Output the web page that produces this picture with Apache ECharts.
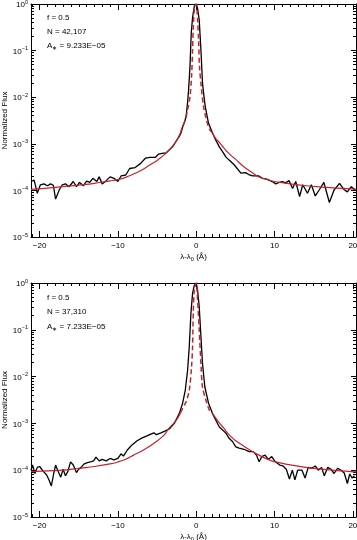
<!DOCTYPE html>
<html>
<head>
<meta charset="utf-8">
<script src="https://cdn.jsdelivr.net/npm/echarts@6.0.0/dist/echarts.min.js"></script>
<style>
  html, body { margin: 0; padding: 0; background: #fff; }
  #chart { width: 357px; height: 540px; }
</style>
</head>
<body>
<div id="chart"></div>
<script>
// ---------------- data ----------------
const X_MIN = -21.1, X_MAX = 20.4;
const X_MAJOR = [-20, -10, 0, 10, 20];
const X_MINOR = [-21,-19,-18,-17,-16,-15,-14,-13,-12,-11,-9,-8,-7,-6,-5,-4,-3,-2,-1,1,2,3,4,5,6,7,8,9,11,12,13,14,15,16,17,18,19];
const Y_DECADES = [-5, -4, -3, -2, -1, 0];
const Y_MINOR_MULT = [2, 3, 4, 5, 6, 7, 8, 9];

// panel annotations
const panelF = ['0.5', '0.5'];
const panelN = ['42,107', '37,310'];
const panelA = ['9.233E\u221205', '7.233E\u221205'];

// Top panel: observed profile
const topObsX = [-21.1,-20.7,-20.3,-19.9,-19.45,-19.0,-18.6,-18.25,-17.96,-17.5,-17.1,-16.7,-16.25,-15.7,-15.3,-14.9,-14.4,-14.0,-13.6,-13.2,-12.7,-12.4,-12.0,-11.5,-11.0,-10.5,-10.0,-9.6,-9.0,-8.5,-7.8,-7.1,-6.5,-5.9,-5.2,-4.8,-4.2,-3.9,-3.0,-2.6,-2.2,-1.95,-1.7,-1.5,-1.3,-1.1,-0.98,-0.8,-0.64,-0.47,-0.25,0,0.17,0.38,0.6,0.8,1.0,1.15,1.57,2.08,2.5,2.93,3.4,3.78,4.2,4.84,5.06,5.7,6.3,6.7,7.2,8.0,8.45,9.0,9.7,10.15,10.6,11.0,11.4,11.85,12.3,12.7,13.2,13.6,14.2,14.7,15.2,15.7,16.3,16.5,17.0,17.6,18.3,18.85,19.3,19.8,20.3];
const topObsY = [1.55e-4,1.66e-4,8.7e-5,1.32e-4,1.38e-4,1.26e-4,1.38e-4,1.29e-4,6.5e-5,1.02e-4,1.32e-4,1.38e-4,1.2e-4,1.55e-4,1.2e-4,1.48e-4,1.26e-4,1.58e-4,1.48e-4,1.82e-4,1.55e-4,1.95e-4,1.38e-4,1.62e-4,1.95e-4,1.82e-4,1.55e-4,2.04e-4,2.14e-4,2.95e-4,3.09e-4,3.8e-4,4.9e-4,5.13e-4,5.13e-4,6.03e-4,6.3e-4,6.3e-4,8.7e-4,1.12e-3,1.41e-3,1.7e-3,2.4e-3,2.95e-3,3.8e-3,7.9e-3,0.0141,0.0447,0.234,0.513,0.891,1.0,0.794,0.457,0.102,0.02,0.01,6.3e-3,2.75e-3,1.7e-3,1.2e-3,8.7e-4,6.6e-4,5.25e-4,4.47e-4,3.55e-4,3.55e-4,2.34e-4,2.4e-4,2.19e-4,2.04e-4,2.04e-4,1.82e-4,1.74e-4,1.55e-4,1.38e-4,1.48e-4,1.55e-4,1.45e-4,1.62e-4,1.1e-4,1.55e-4,7.4e-5,1.32e-4,8.7e-5,1.32e-4,7.6e-5,1.02e-4,1.48e-4,1.41e-4,5.5e-5,1.02e-4,1.41e-4,1.05e-4,9.3e-5,1.2e-4,1.02e-4];

// Top panel: model wings (solid) and core (dashed)
const topWingLX = [-21.1,-19,-17,-15,-13,-11,-10,-9,-8,-7,-6,-5,-4.5,-4,-3.5,-3,-2.5,-2];
const topWingLY = [1.05e-4,1.12e-4,1.2e-4,1.3e-4,1.42e-4,1.6e-4,1.7e-4,1.9e-4,2.25e-4,2.7e-4,3.45e-4,4.4e-4,5.1e-4,6.0e-4,7.3e-4,9.0e-4,1.18e-3,1.75e-3];
const topWingRX = [2,2.5,3,3.5,4,4.5,5,6,7,8,9,10,12,14,16,18,20.4];
const topWingRY = [1.75e-3,1.3e-3,1.05e-3,8.3e-4,6.6e-4,5.5e-4,4.7e-4,3.3e-4,2.5e-4,1.95e-4,1.72e-4,1.55e-4,1.38e-4,1.26e-4,1.18e-4,1.12e-4,1.07e-4];
const topCoreX = [-2,-1.74,-1.4,-1.1,-0.8,-0.6,-0.47,-0.38,-0.25,-0.1,0,0.17,0.3,0.42,0.64,0.93,1.32,1.66,2];
const topCoreY = [1.75e-3,2.34e-3,3.2e-3,5.4e-3,0.0102,0.0275,0.102,0.32,0.74,0.95,1.0,0.457,0.17,0.0447,0.017,6.3e-3,3.2e-3,2.1e-3,1.75e-3];

// Bottom panel: observed profile
const botObsX = [-21.1,-20.9,-20.6,-20.3,-20.0,-19.5,-19.1,-18.8,-18.5,-18.2,-17.96,-17.7,-17.3,-17.0,-16.7,-16.4,-16.05,-15.7,-15.3,-15.0,-14.7,-14.35,-13.9,-13.5,-13.1,-12.8,-12.4,-12.0,-11.5,-11.0,-10.5,-10.0,-9.6,-9.3,-8.8,-8.2,-7.55,-6.9,-6.3,-5.8,-5.4,-5.1,-4.5,-3.95,-3.44,-2.8,-2.17,-1.74,-1.4,-1.1,-0.89,-0.68,-0.47,-0.25,0,0.17,0.38,0.6,0.8,1.1,1.57,2.08,2.93,3.78,4.2,4.63,5.05,5.48,6.1,6.75,7.26,7.69,8.03,8.37,8.79,9.2,9.64,10.1,10.66,11.08,11.5,11.9,12.27,12.6,12.95,13.2,13.5,13.9,14.3,14.7,15.2,15.6,16.0,16.35,16.8,17.2,17.6,18.05,18.5,18.9,19.3,19.6,19.9,20.2];
const botObsY = [1.0e-4,1.29e-4,8.5e-5,1.15e-4,1.2e-4,9.3e-5,7.9e-5,6.2e-5,4.6e-5,8.5e-5,1.29e-4,1.0e-4,7.1e-5,1.05e-4,7.6e-5,9.3e-5,1.51e-4,1.29e-4,8.9e-5,1.05e-4,1.15e-4,1.35e-4,1.45e-4,1.51e-4,1.58e-4,1.9e-4,1.58e-4,1.7e-4,1.58e-4,1.78e-4,1.66e-4,1.78e-4,2.24e-4,2.0e-4,2.7e-4,3.47e-4,4.27e-4,4.9e-4,5.4e-4,5.9e-4,6.3e-4,5.75e-4,6.3e-4,6.9e-4,7.6e-4,1.0e-3,1.62e-3,2.7e-3,5.1e-3,0.0138,0.0437,0.224,0.6,0.89,1.0,0.71,0.31,0.071,0.019,6.0e-3,2.7e-3,1.62e-3,8.5e-4,6.2e-4,4.8e-4,4.1e-4,3.16e-4,2.95e-4,2.8e-4,2.5e-4,2.5e-4,2.1e-4,1.51e-4,1.95e-4,2.1e-4,1.7e-4,1.95e-4,1.51e-4,1.29e-4,1.23e-4,1.05e-4,6.5e-5,1.0e-4,6.2e-5,1.0e-4,1.1e-4,1.0e-4,6.8e-5,1.15e-4,1.1e-4,1.23e-4,1.0e-4,1.15e-4,7.6e-5,1.15e-4,1.05e-4,8.5e-5,1.1e-4,1.0e-4,8.7e-5,5.2e-5,8.3e-5,6.8e-5,7.6e-5];

// Bottom panel: model wings (solid) and core (dashed)
const botWingLX = [-21.1,-19,-17,-15,-13,-11,-10,-9,-8,-7,-6,-5,-4.5,-4,-3.5,-3,-2.5,-2];
const botWingLY = [9.3e-5,9.7e-5,1.0e-4,1.1e-4,1.2e-4,1.36e-4,1.5e-4,1.72e-4,2.1e-4,2.55e-4,3.2e-4,4.2e-4,4.9e-4,5.9e-4,7.8e-4,9.5e-4,1.2e-3,1.7e-3];
const botWingRX = [2,2.5,3,3.5,4,4.5,5,6,7,8,9,10,12,14,16,18,20.4];
const botWingRY = [1.7e-3,1.3e-3,1.0e-3,8.0e-4,6.2e-4,5.1e-4,4.3e-4,3.35e-4,2.6e-4,2.1e-4,1.75e-4,1.52e-4,1.3e-4,1.15e-4,1.05e-4,9.8e-5,9.2e-5];
const botCoreX = [-2,-1.74,-1.3,-0.89,-0.6,-0.47,-0.38,-0.25,0,0.17,0.38,0.6,0.8,1.23,1.66,2];
const botCoreY = [1.7e-3,2.1e-3,2.9e-3,5.1e-3,0.0162,0.0437,0.224,0.71,1.0,0.436,0.1,0.019,6.0e-3,3.16e-3,1.95e-3,1.7e-3];

// ---------------- chart ----------------
const FONT = 'Liberation Sans, Arial, Helvetica, sans-serif';
const RED = '#c8202a';
const pairs = (xs, ys) => xs.map((x, i) => [x, ys[i]]);
const minus = v => (v < 0 ? '\u2212' + (-v) : String(v));
const yMinorLog = [];
Y_DECADES.slice(0, -1).forEach(d => Y_MINOR_MULT.forEach(m => yMinorLog.push(d + Math.log10(m))));

const grids = [
  { left: 31, top: 4, width: 325, height: 233, containLabel: false, outerBoundsMode: 'none' },
  { left: 31, top: 283, width: 325, height: 234, containLabel: false, outerBoundsMode: 'none' }
];

const lineOn = { show: true, onZero: false, lineStyle: { color: '#000', width: 1 } };
const lineOff = { show: false, onZero: false };
const xAxes = [], yAxes = [];
grids.forEach((g, gi) => {
  const base = { gridIndex: gi, type: 'value', min: X_MIN, max: X_MAX, splitLine: { show: false } };
  xAxes.push(Object.assign({}, base, {
    position: 'bottom',
    axisLine: lineOn,
    axisTick: { show: true, inside: true, length: 6, customValues: X_MAJOR, lineStyle: { color: '#000' } },
    axisLabel: { show: true, customValues: X_MAJOR, formatter: minus, fontSize: 8, color: '#000', fontFamily: FONT, margin: 5 },
    name: '{a|\u03bb-\u03bb}{s|0}{a| (\u00c5)}',
    nameLocation: 'middle',
    nameGap: 15,
    nameMoveOverlap: false,
    nameTextStyle: { fontFamily: FONT, color: '#000', rich: {
      a: { fontSize: 8, fontFamily: FONT, color: '#000', lineHeight: 10 },
      s: { fontSize: 5.5, fontFamily: FONT, color: '#000', verticalAlign: 'bottom', lineHeight: 10 }
    } }
  }));
  xAxes.push(Object.assign({}, base, {
    position: 'bottom',
    axisLine: lineOff,
    axisTick: { show: true, inside: true, length: 3, customValues: X_MINOR, lineStyle: { color: '#000' } },
    axisLabel: { show: false }
  }));
  xAxes.push(Object.assign({}, base, {
    position: 'top',
    axisLine: lineOn,
    axisTick: { show: true, inside: true, length: 6, customValues: X_MAJOR, lineStyle: { color: '#000' } },
    axisLabel: { show: false }
  }));
  xAxes.push(Object.assign({}, base, {
    position: 'top',
    axisLine: lineOff,
    axisTick: { show: true, inside: true, length: 3, customValues: X_MINOR, lineStyle: { color: '#000' } },
    axisLabel: { show: false }
  }));

  const logBase = { gridIndex: gi, type: 'log', logBase: 10, min: 1e-5, max: 1, splitLine: { show: false }, minorTick: { show: false } };
  yAxes.push(Object.assign({}, logBase, {
    position: 'left',
    axisLine: lineOn,
    axisTick: { show: true, inside: true, length: 5, lineStyle: { color: '#000' } },
    axisLabel: {
      show: true, margin: 3, fontFamily: FONT, color: '#000',
      formatter: v => {
        const e = Math.round(Math.log10(v));
        return '{b|10}{e|' + (e < 0 ? '\u2212' + (-e) : e) + '}';
      },
      rich: {
        b: { fontSize: 8, fontFamily: FONT, color: '#000', lineHeight: 10, verticalAlign: 'bottom' },
        e: { fontSize: 5.5, fontFamily: FONT, color: '#000', lineHeight: 10, verticalAlign: 'top' }
      }
    },
    name: 'Normalized Flux',
    nameLocation: 'middle',
    nameGap: 22,
    nameMoveOverlap: false,
    nameTextStyle: { fontSize: 8, fontFamily: FONT, color: '#000' }
  }));
  yAxes.push(Object.assign({}, logBase, {
    position: 'right',
    axisLine: lineOn,
    axisTick: { show: true, inside: true, length: 5, lineStyle: { color: '#000' } },
    axisLabel: { show: false }
  }));
  const linBase = { gridIndex: gi, type: 'value', min: Y_DECADES[0], max: Y_DECADES[Y_DECADES.length - 1], splitLine: { show: false }, axisLine: lineOff, axisLabel: { show: false } };
  yAxes.push(Object.assign({}, linBase, {
    position: 'left',
    axisTick: { show: true, inside: true, length: 3, customValues: yMinorLog, lineStyle: { color: '#000' } }
  }));
  yAxes.push(Object.assign({}, linBase, {
    position: 'right',
    axisTick: { show: true, inside: true, length: 3, customValues: yMinorLog, lineStyle: { color: '#000' } }
  }));
});

const panels = [
  { obs: pairs(topObsX, topObsY), wl: pairs(topWingLX, topWingLY), wr: pairs(topWingRX, topWingRY), core: pairs(topCoreX, topCoreY) },
  { obs: pairs(botObsX, botObsY), wl: pairs(botWingLX, botWingLY), wr: pairs(botWingRX, botWingRY), core: pairs(botCoreX, botCoreY) }
];

const series = [];
panels.forEach((p, gi) => {
  const common = { type: 'line', xAxisIndex: gi * 4, yAxisIndex: gi * 4, showSymbol: false, symbol: 'none', silent: true, animation: false };
  series.push(Object.assign({}, common, { data: p.obs, lineStyle: { color: '#000', width: 1.3 }, z: 2 }));
  series.push(Object.assign({}, common, { data: p.wl, smooth: 0.4, lineStyle: { color: RED, width: 1.2 }, z: 3 }));
  series.push(Object.assign({}, common, { data: p.wr, smooth: 0.4, lineStyle: { color: RED, width: 1.2 }, z: 3 }));
  series.push(Object.assign({}, common, { data: p.core, smooth: 0.3, lineStyle: { color: RED, width: 1.5, type: [5, 3] }, z: 3 }));
});

const annoTops = [[19, 33, 47], [299, 313, 328]];
const graphic = [];
annoTops.forEach((ys, gi) => {
  const rich = {
    a: { fontSize: 8, fontFamily: FONT, fill: '#000', lineHeight: 10 },
    s: { fontSize: 6, fontFamily: FONT, fill: '#000', lineHeight: 10, verticalAlign: 'bottom' }
  };
  graphic.push({ type: 'text', left: 47, top: ys[0] - 5, style: { text: '{a|f = ' + panelF[gi] + '}', rich } });
  graphic.push({ type: 'text', left: 47, top: ys[1] - 5, style: { text: '{a|N = ' + panelN[gi] + '}', rich } });
  graphic.push({ type: 'text', left: 47, top: ys[2] - 5, style: { text: '{a|A}{s|\u2217}{a| = ' + panelA[gi] + '}', rich } });
});

const chart = echarts.init(document.getElementById('chart'), null, { renderer: 'canvas' });
chart.setOption({
  animation: false,
  backgroundColor: '#fff',
  grid: grids,
  xAxis: xAxes,
  yAxis: yAxes,
  series,
  graphic
});
</script>
</body>
</html>
